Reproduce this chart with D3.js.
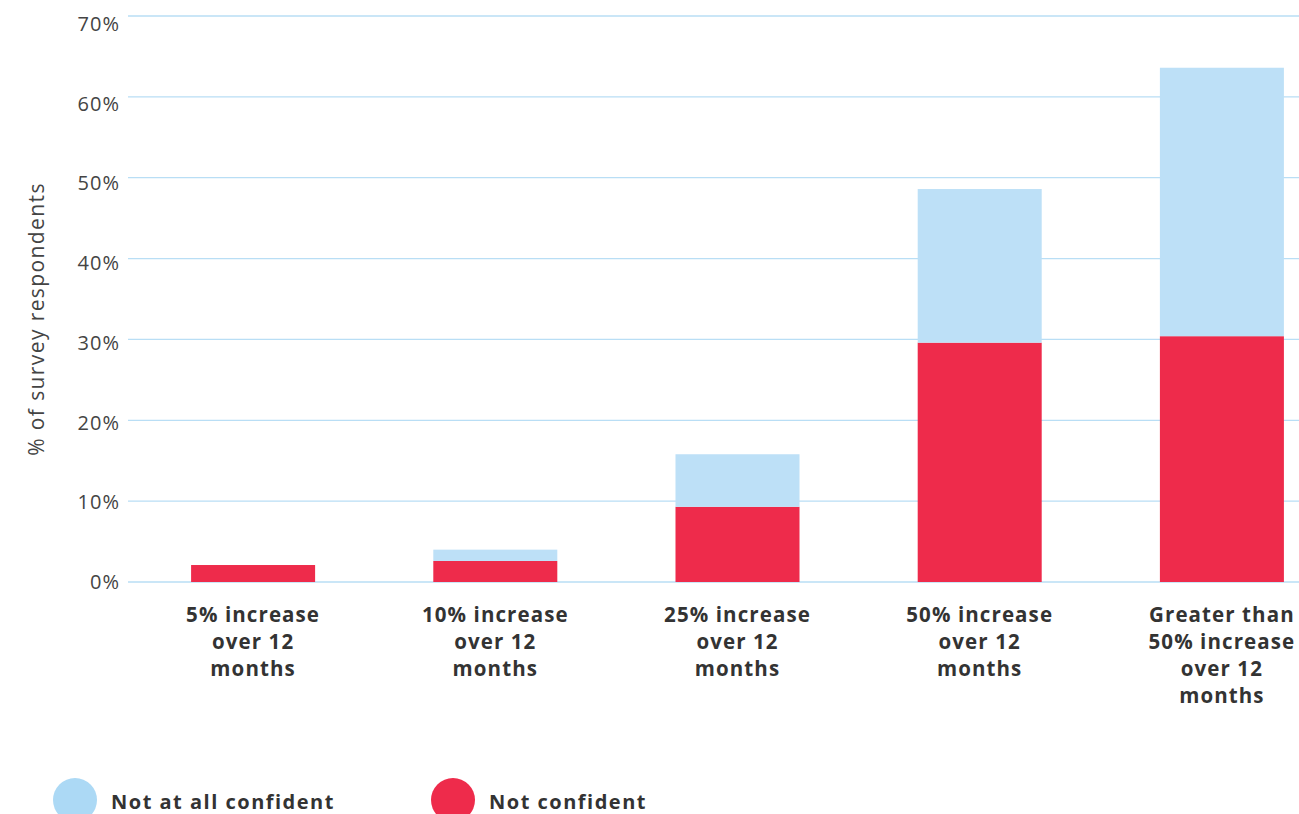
<!DOCTYPE html>
<html><head><meta charset="utf-8">
<script src="https://cdn.jsdelivr.net/npm/d3@7"></script>
<style>
html,body{margin:0;padding:0;background:#fff;}
svg{display:block;font-family:"Open Sans",sans-serif;}
</style></head>
<body><svg id="c" width="1299" height="814"></svg>
<script>
const categories = ["5% increase over 12 months","10% increase over 12 months","25% increase over 12 months","50% increase over 12 months","Greater than 50% increase over 12 months"];
const categoryLines = [["5% increase","over 12","months"],["10% increase","over 12","months"],["25% increase","over 12","months"],["50% increase","over 12","months"],["Greater than","50% increase","over 12","months"]];
const notConfident = [2.1, 2.6, 9.3, 29.6, 30.4];
const notAtAllConfident = [0, 1.4, 6.5, 19.0, 33.2];
const seriesNames = ["Not at all confident","Not confident"];
const yTicks = [0,10,20,30,40,50,60,70];
const colors = {"Not at all confident":"#bde0f7","Not confident":"#ee2b4b"};

const svg = d3.select("#c");
const y = d3.scaleLinear().domain([0,70]).range([582,16]);
const yLab = d3.scaleLinear().domain([0,70]).range([582,24]);
const x = d3.scaleBand().domain(categories).range([132,1343]).paddingInner(0.488).paddingOuter(0.244);

// gridlines
svg.append("g").selectAll("line").data(yTicks).join("line")
  .attr("x1",128).attr("x2",1299)
  .attr("y1",d=>y(d)).attr("y2",d=>y(d))
  .attr("stroke","#b9def5").attr("stroke-width",1.3);

// tick labels
svg.append("g").selectAll("text").data(yTicks).join("text")
  .attr("x",120).attr("y",d=>yLab(d)).attr("dy","0.35em")
  .attr("text-anchor","end").attr("font-size",20).attr("letter-spacing",1).attr("fill","#444")
  .text(d=>d+"%");

// y title
svg.append("text").attr("transform","translate(44,319) rotate(-90)")
  .attr("text-anchor","middle").attr("font-size",21).attr("letter-spacing",1.4).attr("fill","#444")
  .text("% of survey respondents");

// stacked bars
const rows = categories.map((c,i)=>({cat:c,"Not confident":notConfident[i],"Not at all confident":notAtAllConfident[i]}));
const stack = d3.stack().keys(["Not confident","Not at all confident"])(rows);
svg.append("g").selectAll("g").data(stack).join("g")
  .attr("fill",d=>colors[d.key])
  .selectAll("rect").data(d=>d).join("rect")
  .attr("x",d=>x(d.data.cat)).attr("width",x.bandwidth())
  .attr("y",d=>y(d[1])).attr("height",d=>Math.max(0,y(d[0])-y(d[1])));

// category labels
const cl = svg.append("g").selectAll("text").data(categories).join("text")
  .attr("text-anchor","middle").attr("font-size",20.5).attr("font-weight",700).attr("letter-spacing",1.1).attr("fill","#333")
  .attr("x",d=>x(d)+x.bandwidth()/2).attr("y",622);
cl.selectAll("tspan").data((d,i)=>categoryLines[i]).join("tspan")
  .attr("x",function(){return this.parentNode.getAttribute("x");})
  .attr("dy",(d,i)=>i===0?0:27).text(d=>d);

// legend
const lg = svg.append("g").selectAll("g").data(seriesNames).join("g")
  .attr("transform",(d,i)=>`translate(${[75,453][i]},800)`);
lg.append("circle").attr("r",22).attr("fill",d=>colors[d]==="#bde0f7"?"#acd9f5":colors[d]);
lg.append("text").attr("x",36).attr("y",9).attr("font-size",20).attr("font-weight",700).attr("letter-spacing",1.5).attr("fill","#333").text(d=>d);
</script></body></html>
